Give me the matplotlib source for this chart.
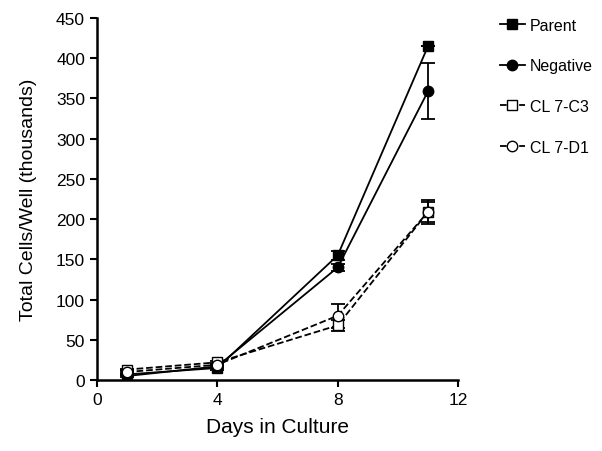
import matplotlib.pyplot as plt
import numpy as np

plt.rcParams['font.family'] = ['Liberation Sans', 'DejaVu Sans']

days = [1, 4, 8, 11]
parent = [7, 15, 155, 415]
parent_err = [1, 2, 6, 0]
negative = [5, 17, 140, 359]
negative_err = [1, 2, 4, 35]
cl_c3 = [13, 22, 68, 209]
cl_c3_err = [1, 2, 7, 12]
cl_d1 = [10, 19, 80, 209]
cl_d1_err = [1, 2, 15, 15]

fig = plt.figure(figsize=(6.02, 4.52), dpi=100)
ax = fig.add_axes([0.161, 0.157, 0.6, 0.801])

common = dict(color='black', lw=1.3, ms=7.5, capsize=5, elinewidth=1.3, capthick=1.3)
ax.errorbar(days, parent, yerr=parent_err, marker='s', ls='-', label='Parent', **common)
ax.errorbar(days, negative, yerr=negative_err, marker='o', ls='-', label='Negative', **common)
ax.errorbar(days, cl_c3, yerr=cl_c3_err, marker='s', ls='--', mfc='white', label='CL 7-C3', **common)
ax.errorbar(days, cl_d1, yerr=cl_d1_err, marker='o', ls='--', mfc='white', label='CL 7-D1', **common)

ax.set_xlim(0, 12)
ax.set_ylim(0, 450)
ax.set_xticks([0, 4, 8, 12])
ax.set_yticks(np.arange(0, 451, 50))
ax.spines['top'].set_visible(False)
ax.spines['right'].set_visible(False)
ax.spines['left'].set_linewidth(1.8)
ax.spines['bottom'].set_linewidth(1.8)
ax.tick_params(width=1.5, length=5, labelsize=12.5)
ax.set_xlabel('Days in Culture', fontsize=15, labelpad=7)
ax.set_ylabel('Total Cells/Well (thousands)', fontsize=14, labelpad=14)

handles, labels = ax.get_legend_handles_labels()
handles = [h[0] for h in handles]
ax.legend(handles, labels, loc='upper left', bbox_to_anchor=(1.075, 1.04), frameon=False,
          handlelength=1.6, labelspacing=1.6, fontsize=11.5, handletextpad=0.3)

fig.savefig('out.png', dpi=100)
